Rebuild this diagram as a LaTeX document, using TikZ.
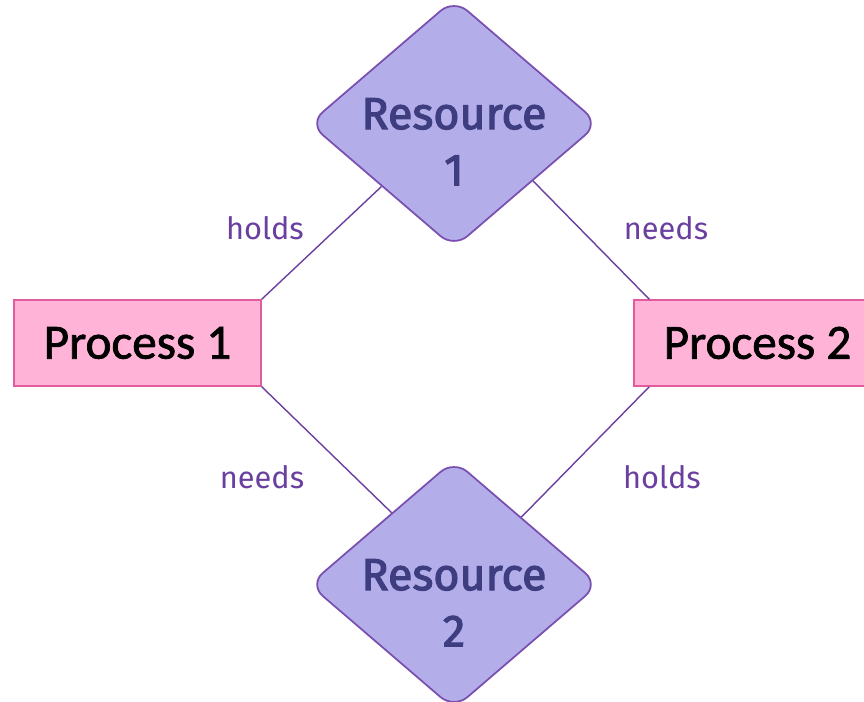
\documentclass[tikz,border=0pt]{standalone}
\usepackage{fontspec}
\setmainfont{Fira Sans}
\newfontfamily\procfont[FakeBold=1.5]{Carlito}
\newfontfamily\resfont[FakeBold=2.5]{Fira Sans}
\usetikzlibrary{shapes.geometric,positioning}

\definecolor{resfill}{HTML}{B3AEEA}
\definecolor{resline}{HTML}{7A4FB0}
\definecolor{restext}{HTML}{3D3D80}
\definecolor{procfill}{HTML}{FFB3D7}
\definecolor{procline}{HTML}{E05C9F}
\definecolor{linkcol}{HTML}{6B3FA0}

% two centred lines, set a little below the middle of the node
\newcommand{\lowtext}[2]{\raisebox{-0.45cm}[\height][\depth]{%
    \begin{tabular}{@{}c@{}}#1\\#2\end{tabular}}}

\tikzset{
    resource/.style={diamond, draw=resline, fill=resfill, line width=1pt,
        rounded corners=10pt, minimum width=5.8cm, minimum height=4.98cm,
        inner sep=-10pt, text=restext,
        font=\resfont\fontsize{25.5}{32}\selectfont},
    process/.style={rectangle, draw=procline, fill=procfill, line width=0.8pt,
        minimum width=4.94cm, minimum height=1.72cm,
        font=\procfont\fontsize{28}{32}\selectfont},
    link/.style={draw=linkcol, line width=0.8pt},
    tag/.style={text=linkcol, font=\fontsize{17.5}{20}\selectfont}
}

\begin{document}
\begin{tikzpicture}
            \fill[white] (0, 0) rectangle (17.28, 14.04);
            \useasboundingbox (0, 0) rectangle (17.28, 14.04);

            % resources and processes
            \node[resource] (res1) at (9.08, 11.57) {\lowtext{Resource}{1}};
            \node[resource] (res2) at (9.08, 2.35) {\lowtext{Resource}{2}};
            \node[process] (proc1) at (2.75, 7.18) {Process 1};
            \node[process] (proc2) at (15.15, 7.18) {Process 2};

            % edges
            \draw[link] (proc1.north east) -- (res1.-139);
            \draw[link] (proc2.158) -- (res1.-36);
            \draw[link] (proc1.south east) -- (res2.131);
            \draw[link] (proc2.-158) -- (res2.45);

            \node[tag] (hold1) at (5.30, 9.48) {holds};
            \node[tag] (need1) at (13.32, 9.48) {needs};
            \node[tag] (need2) at (5.24, 4.50) {needs};
            \node[tag] (hold2) at (13.24, 4.50) {holds};
\end{tikzpicture}
\end{document}
